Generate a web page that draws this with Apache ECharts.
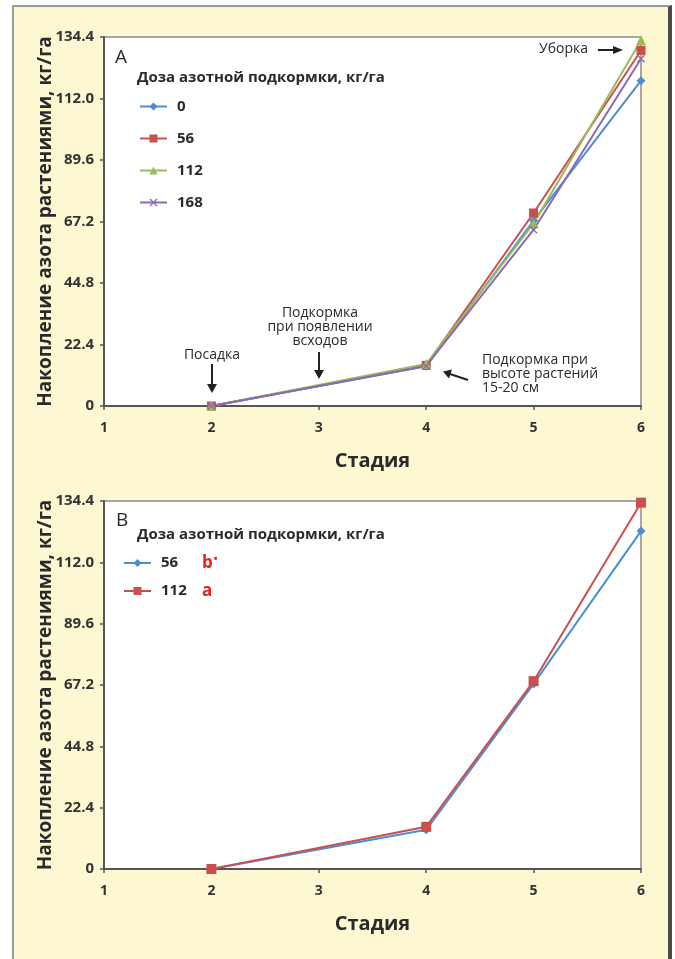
<!DOCTYPE html>
<html><head><meta charset="utf-8">
<script src="https://cdn.jsdelivr.net/npm/echarts@6/dist/echarts.min.js"></script>
<style>
html,body{margin:0;padding:0;background:#fff}
#wrap{position:relative;width:675px;height:959px}
#bg{position:absolute;left:12px;top:5px;width:654px;height:960px;background:#FEF8D2;border-left:2px solid #9a9a9a;border-top:2px solid #9a9a9a;border-right:4px solid #4a4a4a}
#c{position:absolute;left:0;top:0;width:675px;height:959px}
</style>
</head><body><div id="wrap"><div id="bg"></div><div id="c"></div></div>
<script>
// ---- data ----
const stages = [2, 4, 5, 6];
const seriesNamesA = ['0', '56', '112', '168'];
const a0   = [0, 14.5, 67.5, 118.5];
const a56  = [0, 14.8, 70.3, 129.5];
const a112 = [0, 15.3, 66.5, 133.2];
const a168 = [0, 14.6, 64.2, 126.5];
const seriesNamesB = ['56', '112'];
const lettersB = ['b', 'a'];
const b56  = [0, 14.3, 67.6, 123.4];
const b112 = [0, 15.4, 68.6, 133.8];
const yTicks = [0, 22.4, 44.8, 67.2, 89.6, 112.0, 134.4];
const xTicks = [1, 2, 3, 4, 5, 6];
const yName = 'Накопление азота растениями, кг/га';
const xName = 'Стадия';
const legendTitle = 'Доза азотной подкормки, кг/га';

// ---- styles ----
const F = "'Open Sans', 'Liberation Sans', sans-serif";
const C = {blue: '#4A8FD3', red: '#C9504C', green: '#9BBB59', purple: '#8A6AB0'};
const xSym = 'path://M0,1.2L1.2,0L5,3.8L8.8,0L10,1.2L6.2,5L10,8.8L8.8,10L5,6.2L1.2,10L0,8.8L3.8,5Z';

const pairs = (vals) => stages.map((s, i) => [s, vals[i]]);
const yStep = yTicks[1] - yTicks[0];

function mkX(gi) {
  return {
    type: 'value', gridIndex: gi, min: xTicks[0], max: xTicks[xTicks.length - 1], interval: 1,
    name: xName, nameLocation: 'middle', nameGap: 45, nameMoveOverlap: false,
    nameTextStyle: {fontFamily: F, fontSize: 20, fontWeight: 'bold', color: '#2a2a2a'},
    axisLine: {show: true, onZero: false, lineStyle: {color: '#555', width: 2}},
    axisTick: {show: true, length: 4, lineStyle: {color: '#555', width: 1.5}},
    axisLabel: {fontFamily: F, fontSize: 14, fontWeight: 'bold', color: '#333', margin: 15},
    splitLine: {show: false}
  };
}
function mkY(gi) {
  return {
    type: 'value', gridIndex: gi, min: yTicks[0], max: yTicks[yTicks.length - 1], interval: yStep,
    name: yName, nameLocation: 'middle', nameGap: 49, nameMoveOverlap: false,
    nameTextStyle: {fontFamily: F, fontSize: 19, fontWeight: 'bold', color: '#2a2a2a'},
    axisLine: {show: true, lineStyle: {color: '#555', width: 2}},
    axisTick: {show: true, length: 4, lineStyle: {color: '#555', width: 1.5}},
    axisLabel: {fontFamily: F, fontSize: 15, fontWeight: 'bold', color: '#333', margin: 10,
      formatter: v => (v === 0 ? '0' : v.toFixed(1))},
    splitLine: {show: false}
  };
}
function mkS(name, vals, color, symbol, size, gi) {
  return {
    type: 'line', name: name, xAxisIndex: gi, yAxisIndex: gi, data: pairs(vals),
    symbol: symbol, symbolSize: size, showSymbol: true,
    lineStyle: {color: color, width: 2}, itemStyle: {color: color},
    emphasis: {disabled: true}, animation: false
  };
}

const txt = (x, y, text, o) => ({type: 'text', x: x, y: y, style: Object.assign({
  text: text, fill: '#2a2a2a', font: '14px ' + F}, o || {})});
const line = (x1, y1, x2, y2) => ({type: 'line', shape: {x1, y1, x2, y2}, style: {stroke: '#222', lineWidth: 2}});
const head = (pts) => ({type: 'polygon', shape: {points: pts}, style: {fill: '#222'}});

const chart = echarts.init(document.getElementById('c'), null, {renderer: 'canvas'});
chart.setOption({
  backgroundColor: 'transparent',
  animation: false,
  grid: [
    {left: 104, top: 37, width: 537, height: 369, show: true, backgroundColor: '#fff', borderColor: '#a8a8a8', borderWidth: 2},
    {left: 104, top: 501, width: 537, height: 368, show: true, backgroundColor: '#fff', borderColor: '#a8a8a8', borderWidth: 2}
  ],
  xAxis: [mkX(0), mkX(1)],
  yAxis: [mkY(0), mkY(1)],
  legend: [
    {orient: 'vertical', left: 134, top: 94, itemWidth: 27, itemHeight: 10, itemGap: 17,
      data: seriesNamesA.map(n => n), selectedMode: false,
      textStyle: {fontFamily: F, fontSize: 15, fontWeight: 'bold', color: '#2a2a2a', padding: [0, 0, 0, 5]}},
    {orient: 'vertical', left: 118, top: 549, itemWidth: 27, itemHeight: 10, itemGap: 11,
      data: seriesNamesB.map(n => n + ' '), selectedMode: false,
      formatter: n => {
        const i = seriesNamesB.indexOf(n.trim());
        return '{n|' + n.trim() + '}{g|}{r|' + lettersB[i] + '}' + (i === 0 ? '{s|•}' : '');
      },
      textStyle: {fontFamily: F, fontSize: 15, fontWeight: 'bold', color: '#2a2a2a', padding: [0, 0, 0, 5],
        rich: {
          n: {fontFamily: F, fontSize: 15, fontWeight: 'bold', color: '#2a2a2a', width: 40},
          g: {width: 1},
          r: {fontFamily: F, fontSize: 17, fontWeight: 'bold', color: '#e8231f'},
          s: {fontFamily: F, fontSize: 10, fontWeight: 'bold', color: '#e8231f', verticalAlign: 'top', padding: [0, 0, 8, 1]}
        }}}
  ],
  series: [
    mkS(seriesNamesA[0], a0, C.blue, 'diamond', 9, 0),
    mkS(seriesNamesA[1], a56, C.red, 'rect', 9, 0),
    mkS(seriesNamesA[2], a112, C.green, 'triangle', 10, 0),
    mkS(seriesNamesA[3], a168, C.purple, xSym, 8, 0),
    mkS(seriesNamesB[0] + ' ', b56, C.blue, 'diamond', 9, 1),
    mkS(seriesNamesB[1] + ' ', b112, C.red, 'rect', 10, 1)
  ],
  graphic: [
    txt(115, 48, 'A', {font: '19px ' + F}),
    txt(137, 70, legendTitle, {font: 'bold 15px ' + F}),
    txt(116, 511, 'В', {font: '19px ' + F}),
    txt(137, 527, legendTitle, {font: 'bold 15px ' + F}),
    // Посадка
    txt(212, 348, 'Посадка', {align: 'center'}),
    line(212, 364, 212, 385), head([[207, 384], [217, 384], [212, 393]]),
    // Подкормка при появлении всходов
    txt(320, 306, 'Подкормка\nпри появлении\nвсходов', {align: 'center', lineHeight: 14}),
    line(319, 352, 319, 371), head([[314, 370], [324, 370], [319, 379]]),
    // Подкормка при высоте растений
    txt(482, 353, 'Подкормка при\nвысоте растений\n15-20 см', {lineHeight: 14}),
    line(468, 380, 450, 374), head([[443, 371.5], [452, 369.5], [449, 378.5]]),
    // Уборка
    txt(539, 42, 'Уборка'),
    line(598, 50, 615, 50), head([[613, 46], [613, 54], [623, 50]])
  ]
});
</script>
</body></html>
